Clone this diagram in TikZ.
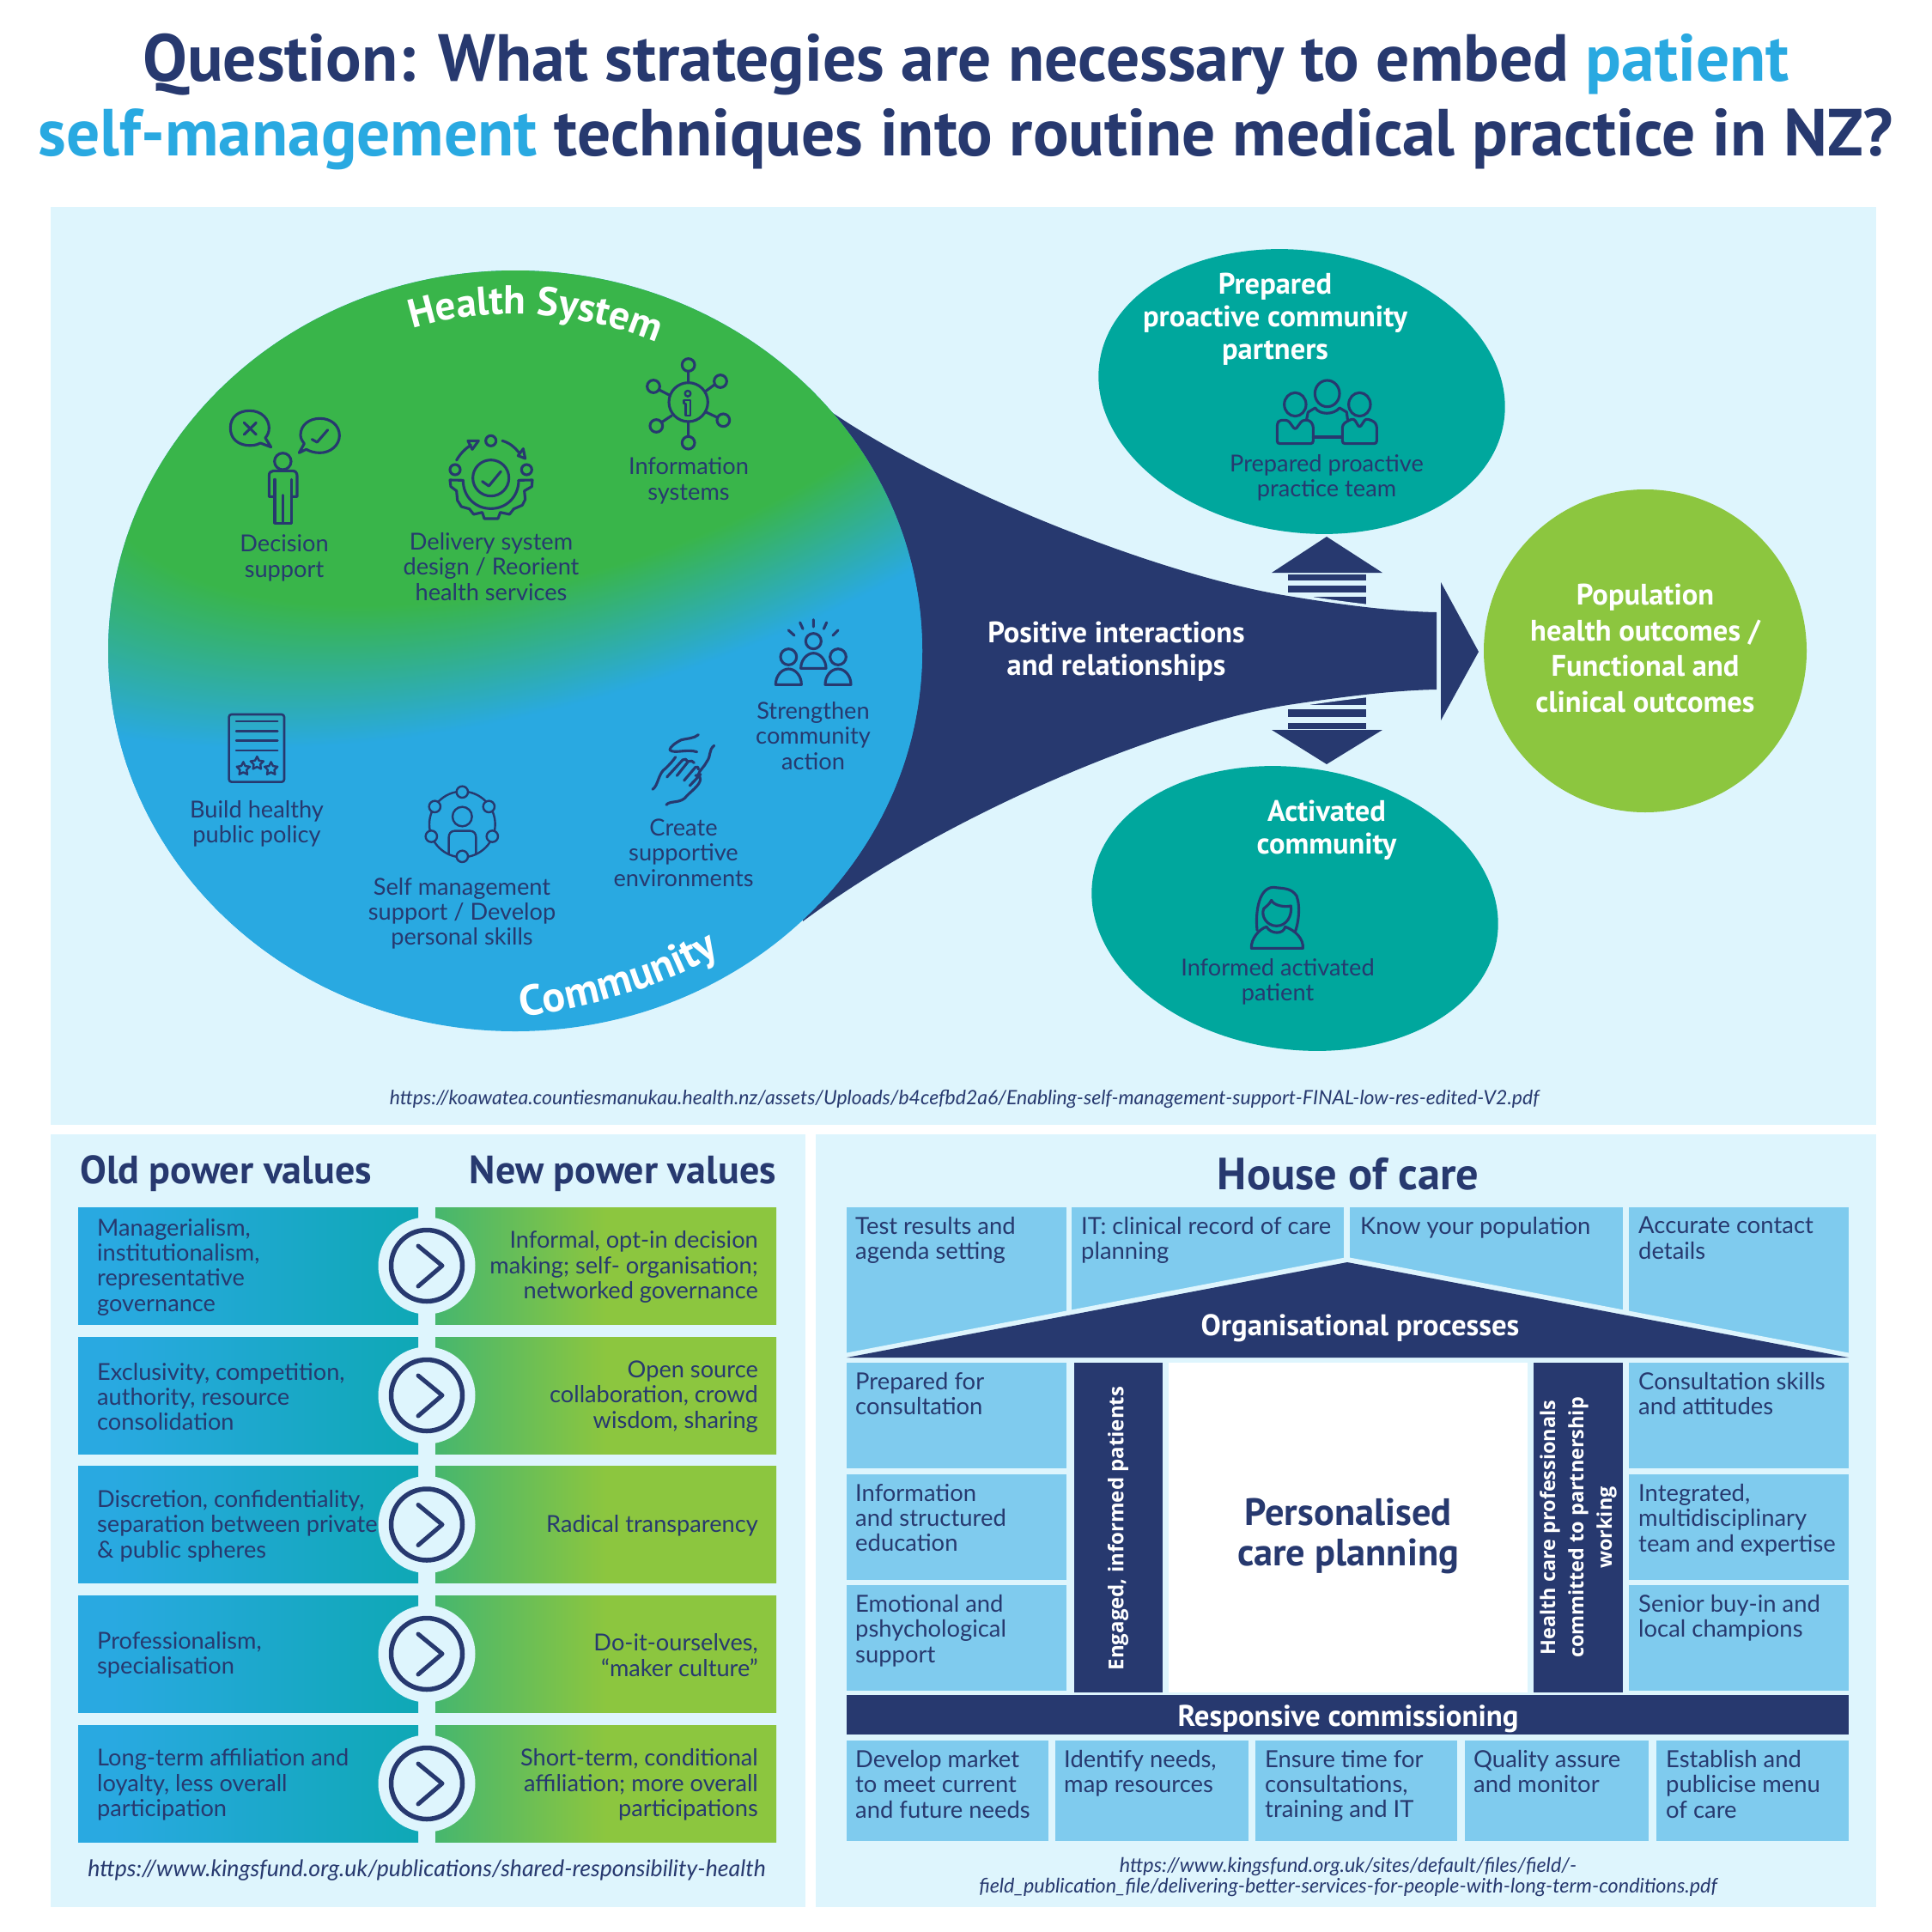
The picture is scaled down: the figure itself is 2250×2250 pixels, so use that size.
\documentclass[tikz,border=0pt]{standalone}
\usepackage{fontspec}
\usetikzlibrary{decorations.text}
\setmainfont{Lato}
\newfontfamily\din{PT Sans}
\newfontfamily\wide{Open Sans}
\definecolor{navy}{HTML}{27396F}
\definecolor{panel}{HTML}{DEF5FD}
\definecolor{sky}{HTML}{29A9E1}
\definecolor{grn}{HTML}{39B54A}
\definecolor{teal2}{HTML}{00A79D}
\definecolor{lime}{HTML}{8CC63F}
\definecolor{cell}{HTML}{7FCBEE}
\pgfdeclareradialshading{gb}{\pgfpointorigin}{color(0bp)=(grn); color(20bp)=(grn); color(29.5bp)=(sky); color(50bp)=(sky)}
\pgfdeclarehorizontalshading{rowleft}{100bp}{color(0bp)=(sky); color(30bp)=(sky); color(100bp)=(teal2)}
\pgfdeclarehorizontalshading{rowright}{100bp}{color(0bp)=(teal2); color(50bp)=(lime); color(100bp)=(lime)}
\newcommand\icstar[1]{\draw[icon,shift={#1}] (0,-24)--(7,-9.7)--(22.8,-7.4)--(11.4,3.7)--(14.1,19.4)--(0,12)--(-14.1,19.4)--(-11.4,3.7)--(-22.8,-7.4)--(-7,-9.7)--cycle;}
\newcommand\powerrow[4]{%
  \shade[shading=rowleft] (91,#2) rectangle (487,#2+136);
  \shade[shading=rowright] (507,#2) rectangle (904,#2+136);
  \fill[panel] (497,#2+68) circle [radius=56.5];
  \draw[navy,line width=5.5pt] (497,#2+68) circle [radius=41.5];
  \draw[navy,line width=5pt,line cap=round,line join=round] (487,#2+45) -- (515,#2+68) -- (487,#2+92);
  \node[bodyt,align=left,anchor=west] (ol#1) at (113,#2+69.5) {#3};
  \node[bodyt,align=right,anchor=east] (nw#1) at (883,#2+69.5) {#4};
}
\tikzset{
  bodyt/.style={font=\fontsize{27.2}{29.3}\selectfont,text=navy,inner sep=0pt},
  celltext/.style={font=\fontsize{27.4}{29.3}\selectfont,text=navy,inner sep=0pt,align=left,anchor=north west},
  whited/.style={font=\din\bfseries\fontsize{34.5}{38}\selectfont,text=white,inner sep=0pt,align=center},
  head/.style={font=\din\bfseries\fontsize{46}{46}\selectfont,text=navy,inner sep=0pt},
  url/.style={font=\itshape\fontsize{23}{25}\selectfont,text=navy,inner sep=0pt,align=center},
  wbar/.style={font=\din\bfseries\fontsize{34.8}{38}\selectfont,text=white,inner sep=0pt},
  wside/.style={font=\wide\bfseries\fontsize{23.4}{33}\selectfont,text=white,inner sep=0pt,align=center,rotate=90},
  icon/.style={draw=navy,line width=3.1pt,line cap=round,line join=round},
  iconin/.style={x=0.33333pt,y=-0.33333pt},
}
\begin{document}
\begin{tikzpicture}[x=1pt,y=-1pt]
\useasboundingbox (0,0) rectangle (2250,2250);
\fill[white] (0,0) rectangle (2250,2250);
\node[font=\din\bfseries\fontsize{77.5}{87}\selectfont,text=navy,align=center,inner sep=0pt] (title) at (1125,119) {Question: What strategies are necessary to embed \textcolor{sky}{patient}\\\textcolor{sky}{self-management} techniques into routine medical practice in NZ?};
% panels
\fill[panel] (59,241) rectangle (2185,1310);
\fill[panel] (59,1321) rectangle (938,2221);
\fill[panel] (950,1321) rectangle (2185,2221);
% stripes + arrows
\fill[navy] (1545,625) -- (1610,667) -- (1481,667) -- cycle;
\fill[navy] (1500,669) rectangle (1591,676);
\fill[navy] (1500,682) rectangle (1591,690);
\fill[navy] (1500,695) rectangle (1591,705);
\fill[navy] (1545,890) -- (1610,850) -- (1481,850) -- cycle;
\fill[navy] (1500,842) rectangle (1591,849);
\fill[navy] (1500,826) rectangle (1591,835);
\fill[navy] (1500,812) rectangle (1591,821);
% funnel
\def\funnel{(967,479) .. controls (1100,570) and (1350,670) .. (1500,694) .. controls (1560,704) and (1620,712) .. (1673,713) -- (1673,803) .. controls (1620,804) and (1560,812) .. (1500,821) .. controls (1350,845) and (1100,950) .. (935,1073) -- cycle}
\draw[panel,line width=7pt] \funnel;
\fill[navy] \funnel;
\fill[navy] (1678,678) -- (1722,759) -- (1678,839) -- cycle;
% big ellipse
\fill[sky] (600,758) ellipse [x radius=474,y radius=443];
\begin{scope}
\clip (600,758) ellipse [x radius=474,y radius=443];
\begin{scope}[shift={(670,355)},rotate=20,xscale=30,yscale=15]
\pgflowlevelsynccm\pgfuseshading{gb}
\end{scope}
\end{scope}
\path[decorate,decoration={text along path,text align=center,text={|\din\bfseries\fontsize{47}{47}\selectfont\color{white}|Health System}}] (470,386) .. controls (560,354) and (680,360) .. (775,404);
\path[decorate,decoration={text along path,text align=center,text={|\din\bfseries\fontsize{50}{50}\selectfont\color{white}|Community}}] (610,1184) .. controls (690,1172) and (770,1150) .. (836,1112);
% right ellipses
\fill[teal2,rotate around={-8.3:(1516,456)}] (1516,456) ellipse [x radius=238,y radius=164];
\fill[teal2,rotate around={-8.3:(1508,1058)}] (1508,1058) ellipse [x radius=238,y radius=164];
\fill[lime] (1916,758) circle [radius=188];
% texts main diagram
\node[whited] (pos) at (1300,758.5) {Positive interactions\\and relationships};
\node[whited] (prep) at (1485,372) {Prepared\\proactive community\\partners};
\node[whited] (act) at (1545,967) {Activated\\community};
\node[whited,font=\din\bfseries\fontsize{34.5}{41.7}\selectfont] (popu) at (1916,755) {Population\\health outcomes /\\Functional and\\clinical outcomes};
\node[bodyt,align=center] (t1) at (331,650) {Decision\\support};
\node[bodyt,align=center] (t2) at (572,660) {Delivery system\\design / Reorient\\health services};
\node[bodyt,align=center] (t3) at (802,560) {Information\\systems};
\node[bodyt,align=center] (t4) at (947,857) {Strengthen\\community\\action};
\node[bodyt,align=center] (t5) at (796,993) {Create\\supportive\\environments};
\node[bodyt,align=center] (t6) at (299,959) {Build healthy\\public policy};
\node[bodyt,align=center] (t7) at (538,1064) {Self management\\support / Develop\\personal skills};
\node[bodyt,align=center] (t8) at (1545,556) {Prepared proactive\\practice team};
\node[bodyt,align=center] (t9) at (1488,1143) {Informed activated\\patient};
\node[url] (u1) at (1123,1280) {https://koawatea.countiesmanukau.health.nz/assets/Uploads/b4cefbd2a6/Enabling-self-management-support-FINAL-low-res-edited-V2.pdf};
% ICONS decision + gear
\begin{scope}[shift={(250,400)},iconin]
\draw[icon] (160,348) .. controls (130,365) and (55,360) .. (55,295) .. controls (55,255) and (85,235) .. (122,235) .. controls (165,235) and (190,265) .. (190,295) .. controls (190,310) and (185,320) .. (177,330) -- (197,362) -- cycle;
\draw[icon] (103,277)--(145,318) (145,277)--(103,318);
\draw[icon] (313,350) .. controls (305,340) and (300,330) .. (300,320) .. controls (300,285) and (330,262) .. (368,262) .. controls (405,262) and (436,285) .. (436,322) .. controls (436,355) and (405,382) .. (368,382) .. controls (350,382) and (335,378) .. (320,370) -- (295,382) -- cycle;
\draw[icon] (340,335)--(358,345)--(395,302);
\draw[icon] (238,412) circle [radius=29];
\draw[icon] (210,535)--(190,535)--(190,462) .. controls (190,452) and (196,445) .. (205,445)--(272,445) .. controls (282,445) and (288,452) .. (288,462)--(288,535)--(268,535);
\draw[icon] (210,475)--(210,628)--(268,628)--(268,475) (238,530)--(238,628);
% gear
\draw[icon] (965,470) circle [radius=63];
\draw[icon] (935,482)--(958,498)--(1000,447);
\draw[icon] (965,340) circle [radius=18];
\draw[icon] (840,441) circle [radius=18];
\draw[icon] (1090,441) circle [radius=18];
\draw[icon] (845,408) .. controls (858,385) and (875,368) .. (895,355);
\draw[icon] (885,340)--(922,340)--(900,370)--cycle;
\draw[icon] (1005,340) .. controls (1030,347) and (1048,362) .. (1062,380);
\draw[icon] (1060,392)--(1085,402)--(1078,368)--cycle;
\draw[icon] (868,478) .. controls (868,535) and (910,577) .. (965,577) .. controls (1020,577) and (1062,535) .. (1062,478);
\draw[icon] (868,478)--(822,477)--(825,500)--(845,515)--(848,548)--(862,570)--(890,578)--(905,597)--(935,590)--(942,612)--(990,612)--(998,590)--(1030,597)--(1045,578)--(1075,565)--(1085,545)--(1082,515)--(1108,500)--(1110,477)--(1062,478);
\end{scope}
% info
\begin{scope}[shift={(740,410)},iconin]
\draw[icon] (185,175) circle [radius=68];
\foreach \p in {(185,45),(297,102),(307,238),(185,317),(73,258),(63,120)} \draw[icon] \p circle [radius=22];
\draw[icon] (185,67)--(185,107) (275,115)--(245,137) (285,228)--(247,210) (185,295)--(185,243) (92,245)--(127,222) (83,132)--(122,152);
\draw[icon,line width=2.4pt] (183,145) circle [radius=10];
\draw[icon,line width=2.4pt] (170,168)--(192,168)--(192,222)--(175,222)--(175,180)--(170,180)--cycle;
\end{scope}
% policy + self mgmt
\begin{scope}[shift={(250,820)},iconin]
\draw[icon,line width=2.6pt,rounded corners=3pt] (50,36) rectangle (243,272);
\draw[icon,line width=2.4pt] (75,60)--(220,60) (75,94)--(220,94) (75,128)--(220,128) (75,162)--(220,162);
\tikzset{icon/.append style={line width=2.4pt}}
\icstar{(100,226)}\icstar{(148,207)}\icstar{(197,226)}
\draw[icon] (865,420) circle [radius=115];
\draw[icon] (865,393) circle [radius=34];
\draw[icon] (818,525)--(818,465) .. controls (818,452) and (826,443) .. (838,443)--(893,443) .. controls (905,443) and (913,452) .. (913,465)--(913,525);
\foreach \p in {(865,307),(769,358),(958,358),(757,462),(970,462),(865,532)} \filldraw[icon,fill=sky] \p circle [radius=20];
\end{scope}
% community action + hands
\begin{scope}[shift={(750,710)},iconin]
\draw[icon] (505,72)--(525,90) (545,45)--(555,67) (592,35)--(592,60) (638,45)--(628,67) (678,72)--(660,90);
\draw[icon] (592,110) circle [radius=27];
\draw[icon] (548,205) .. controls (548,175) and (570,152) .. (592,152) .. controls (614,152) and (636,175) .. (636,205) -- cycle;
\draw[icon] (505,165) circle [radius=28];
\draw[icon] (460,262) .. controls (460,230) and (482,207) .. (505,207) .. controls (528,207) and (550,230) .. (550,262) -- cycle;
\draw[icon] (678,165) circle [radius=28];
\draw[icon] (633,262) .. controls (633,230) and (655,207) .. (678,207) .. controls (701,207) and (723,230) .. (723,262) -- cycle;
\begin{scope}[every path/.append style={line width=2.5pt}]
\draw[icon] (190,437) .. controls (175,450) and (150,450) .. (130,455) .. controls (110,465) and (90,480) .. (90,490) .. controls (105,505) and (150,485) .. (185,497);
\draw[icon] (30,628) .. controls (50,615) and (50,570) .. (75,555) .. controls (90,540) and (100,530) .. (110,515);
\draw[icon] (245,475) .. controls (225,490) and (235,510) .. (220,530) .. controls (210,550) and (195,560) .. (190,575);
\draw[icon] (78,682) .. controls (90,665) and (130,680) .. (150,650) .. controls (170,630) and (205,605) .. (195,585) .. controls (190,578) and (185,575) .. (180,580);
\draw[icon] (80,585)--(135,525) .. controls (142,520) and (150,522) .. (152,530);
\draw[icon] (115,580)--(155,530) .. controls (162,525) and (172,530) .. (175,535);
\draw[icon] (140,597)--(180,550) .. controls (186,545) and (192,552) .. (190,558);
\draw[icon] (160,615)--(198,575);
\end{scope}
\end{scope}
% team
\begin{scope}[shift={(1470,430)},iconin]
\draw[icon] (227,85) ellipse [x radius=43,y radius=46];
\draw[icon] (115,123) ellipse [x radius=38,y radius=41];
\draw[icon] (340,123) ellipse [x radius=38,y radius=41];
\draw[icon,rounded corners=3pt] (52,260)--(52,190)--(60,178)--(90,178)--(115,212)--(140,178)--(165,178)--(178,195)--(178,260)--cycle;
\draw[icon,rounded corners=3pt] (280,260)--(280,195)--(295,182)--(320,172)--(340,205)--(362,172)--(390,182)--(400,195)--(400,260)--cycle;
\draw[icon] (155,175)--(160,150)--(185,135) .. controls (200,160) and (250,160) .. (270,135)--(295,150)--(298,175);
\draw[icon] (178,237)--(280,237);
\end{scope}
% woman
\begin{scope}[shift={(1440,1020)},iconin]
\draw[icon] (72,190) .. controls (65,120) and (80,40) .. (130,40) .. controls (160,45) and (190,40) .. (210,70) .. controls (225,110) and (215,170) .. (205,195);
\draw[icon] (122,85) .. controls (130,105) and (170,110) .. (190,105) .. controls (195,140) and (175,175) .. (140,175) .. controls (105,175) and (85,140) .. (95,115) .. controls (105,105) and (115,100) .. (122,85);
\draw[icon] (52,253)--(232,253) .. controls (235,220) and (205,190) .. (170,178) .. controls (165,205) and (120,205) .. (105,178) .. controls (80,185) and (50,220) .. (52,253) -- cycle;
\end{scope}
% LEFT PANEL
\node[head,anchor=west] (oldp) at (93,1367) {Old power values};
\node[head,anchor=east] (newp) at (904,1367) {New power values};
\powerrow{1}{1406}{Managerialism,\\institutionalism,\\representative\\governance}{Informal, opt-in decision\\making; self- organisation;\\networked governance}
\powerrow{2}{1557}{Exclusivity, competition,\\authority, resource\\consolidation}{Open source\\collaboration, crowd\\wisdom, sharing}
\powerrow{3}{1707.5}{Discretion, confidentiality,\\separation between private\\\& public spheres}{Radical transparency}
\powerrow{4}{1858}{Professionalism,\\specialisation}{Do-it-ourselves,\\“maker culture”}
\powerrow{5}{2009}{Long-term affiliation and\\loyalty, less overall\\participation}{Short-term, conditional\\affiliation; more overall\\participations}
\node[url,font=\itshape\fontsize{26.7}{28}\selectfont] (u2) at (497,2178) {https://www.kingsfund.org.uk/publications/shared-responsibility-health};
% HOUSE
\node[head,font=\din\bfseries\fontsize{52.5}{52}\selectfont] (hoc) at (1570,1367) {House of care};
\fill[cell] (986,1406) rectangle (1242,1576);
\fill[cell] (1248,1406) rectangle (1565,1576);
\fill[cell] (1572,1406) rectangle (1890,1576);
\fill[cell] (1897,1406) rectangle (2153,1576);
\fill[panel] (986,1575.5) -- (1569,1464) -- (2153,1575.5) -- (2153,1584) -- (986,1584) -- cycle;
\fill[navy] (986,1581) -- (1569,1470) -- (2153,1581) -- cycle;
\fill[cell] (986,1587) rectangle (1242,1710);
\fill[cell] (986,1717) rectangle (1242,1840);
\fill[cell] (986,1846) rectangle (1242,1969);
\fill[cell] (1897,1587) rectangle (2153,1710);
\fill[cell] (1897,1717) rectangle (2153,1840);
\fill[cell] (1897,1846) rectangle (2153,1969);
\fill[navy] (1251,1587) rectangle (1354,1971);
\fill[navy] (1786,1587) rectangle (1890,1971);
\fill[white] (1361,1587) rectangle (1779,1971);
\fill[navy] (986,1974) rectangle (2153,2020);
\fill[cell] (986,2027) rectangle (1221,2144);
\fill[cell] (1229,2027) rectangle (1454,2144);
\fill[cell] (1462,2027) rectangle (1697,2144);
\fill[cell] (1706,2027) rectangle (1920,2144);
\fill[cell] (1929,2027) rectangle (2153,2144);
\node[wbar] (orgp) at (1584,1547) {Organisational processes};
\node[wbar] (resp) at (1570,2001.5) {Responsive commissioning};
\node[font=\din\bfseries\fontsize{44.4}{47}\selectfont,text=navy,align=center,inner sep=0pt] (pcp) at (1570,1789) {Personalised\\care planning};
\node[wside,font=\wide\bfseries\fontsize{24}{33}\selectfont] (eng) at (1302,1780) {Engaged, informed patients};
\node[wside] (hcp) at (1838,1779) {Health care professionals\\committed to partnership\\working};
\node[celltext] (c1) at (996,1417) {Test results and\\agenda setting};
\node[celltext] (c2) at (1259,1417) {IT: clinical record of care\\planning};
\node[celltext] (c3) at (1584,1417) {Know your population};
\node[celltext] (c4) at (1908,1417) {Accurate contact\\details};
\node[celltext] (c5) at (996,1598) {Prepared for\\consultation};
\node[celltext] (c6) at (996,1728) {Information\\and structured\\education};
\node[celltext] (c7) at (996,1857) {Emotional and\\pshychological\\support};
\node[celltext] (c8) at (1908,1598) {Consultation skills\\and attitudes};
\node[celltext] (c9) at (1908,1728) {Integrated,\\multidisciplinary\\team and expertise};
\node[celltext] (c10) at (1908,1857) {Senior buy-in and\\local champions};
\node[celltext] (c11) at (996,2038) {Develop market\\to meet current\\and future needs};
\node[celltext] (c12) at (1239,2038) {Identify needs,\\map resources};
\node[celltext] (c13) at (1473,2038) {Ensure time for\\consultations,\\training and IT};
\node[celltext] (c14) at (1716,2038) {Quality assure\\and monitor};
\node[celltext] (c15) at (1940,2038) {Establish and\\publicise menu\\of care};
\node[url,font=\itshape\fontsize{23.4}{24}\selectfont] (u3) at (1570,2186) {https://www.kingsfund.org.uk/sites/default/files/field/-\\field\_publication\_file/delivering-better-services-for-people-with-long-term-conditions.pdf};
\end{tikzpicture}
\end{document}
